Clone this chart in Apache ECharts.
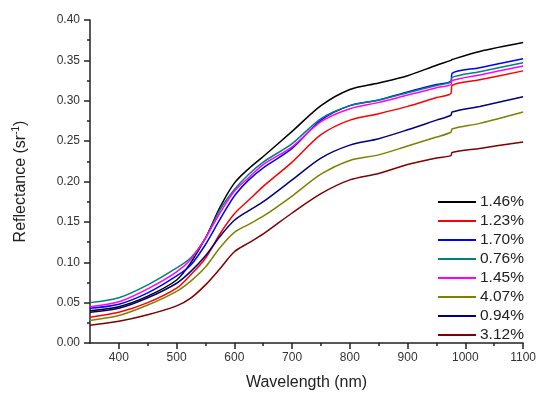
<!DOCTYPE html>
<html>
<head>
<meta charset="utf-8">
<script src="https://cdn.jsdelivr.net/npm/echarts@6/dist/echarts.min.js"></script>
<style>
html,body{margin:0;padding:0;background:#fff;}
#chart{width:539px;height:396px;}
</style>
</head>
<body>
<div id="chart"></div>
<script>
var wavelengths = [350, 400, 450, 500, 525, 550, 575, 600, 625, 650, 700, 750, 800, 850, 900, 950, 975, 977, 1025, 1100];

var seriesNames = ['1.46%', '1.23%', '1.70%', '0.76%', '1.45%', '4.07%', '0.94%', '3.12%'];

var s146 = [0.040, 0.045, 0.058, 0.078, 0.100, 0.130, 0.168, 0.198, 0.216, 0.231, 0.262, 0.294, 0.314, 0.322, 0.331, 0.344, 0.350, 0.351, 0.361, 0.372];
var s123 = [0.032, 0.038, 0.050, 0.068, 0.085, 0.105, 0.135, 0.160, 0.177, 0.194, 0.224, 0.258, 0.276, 0.284, 0.293, 0.304, 0.309, 0.319, 0.326, 0.337];
var s170 = [0.043, 0.048, 0.062, 0.083, 0.097, 0.122, 0.153, 0.182, 0.202, 0.217, 0.241, 0.276, 0.294, 0.301, 0.311, 0.320, 0.324, 0.334, 0.341, 0.352];
var s076 = [0.050, 0.056, 0.072, 0.093, 0.106, 0.130, 0.165, 0.190, 0.209, 0.224, 0.247, 0.278, 0.294, 0.301, 0.310, 0.319, 0.323, 0.329, 0.336, 0.347];
var s145 = [0.045, 0.051, 0.067, 0.088, 0.104, 0.130, 0.161, 0.188, 0.205, 0.221, 0.243, 0.274, 0.290, 0.298, 0.307, 0.316, 0.320, 0.325, 0.332, 0.343];
var s407 = [0.028, 0.034, 0.047, 0.064, 0.077, 0.094, 0.118, 0.137, 0.147, 0.157, 0.182, 0.209, 0.226, 0.233, 0.244, 0.255, 0.261, 0.265, 0.272, 0.286];
var s094 = [0.038, 0.043, 0.056, 0.074, 0.089, 0.108, 0.132, 0.152, 0.164, 0.175, 0.202, 0.229, 0.245, 0.253, 0.264, 0.276, 0.282, 0.286, 0.293, 0.305];
var s312 = [0.022, 0.027, 0.035, 0.046, 0.056, 0.072, 0.092, 0.113, 0.124, 0.135, 0.161, 0.185, 0.202, 0.210, 0.221, 0.229, 0.232, 0.236, 0.241, 0.249];

var seriesValues = [s146, s123, s170, s076, s145, s407, s094, s312];
var seriesColors = ['#000000', '#ff0000', '#0000ff', '#008080', '#ff00ff', '#808000', '#000080', '#800000'];

var xMajor = [400, 500, 600, 700, 800, 900, 1000, 1100];
var xMinor = [450, 550, 650, 750, 850, 950, 1050];

var chart = echarts.init(document.getElementById('chart'), null, {renderer: 'canvas'});

var series = seriesNames.map(function (name, i) {
  return {
    name: name,
    type: 'line',
    xAxisIndex: 0,
    yAxisIndex: 0,
    showSymbol: false,
    symbol: 'none',
    smooth: 0.3,
    lineStyle: {color: seriesColors[i], width: 1.5},
    itemStyle: {color: seriesColors[i]},
    z: 2,
    data: wavelengths.map(function (w, j) { return [w, seriesValues[i][j]]; })
  };
});

var font = 'Liberation Sans, Arial, sans-serif';

chart.setOption({
  animation: false,
  backgroundColor: '#ffffff',
  grid: {left: 90, right: 13, top: 20, bottom: 47, containLabel: false},
  legend: {
    orient: 'vertical',
    left: 433,
    top: 189,
    itemWidth: 38,
    itemHeight: 2,
    itemGap: 3,
    icon: 'rect',
    data: seriesNames,
    textStyle: {fontFamily: font, fontSize: 15.5, color: '#222', lineHeight: 15, padding: [0, 0, 0, -1]}
  },
  xAxis: [{
    type: 'value',
    min: 350,
    max: 1100,
    name: 'Wavelength (nm)',
    nameLocation: 'middle',
    nameGap: 32,
    nameTextStyle: {fontFamily: font, fontSize: 16, color: '#222'},
    axisLine: {show: true, lineStyle: {color: '#222', width: 1.5}},
    axisTick: {show: true, length: 6, customValues: xMajor, lineStyle: {color: '#222', width: 1.5}},
    axisLabel: {customValues: xMajor, fontFamily: font, fontSize: 12, color: '#333', margin: 9, formatter: function (v) { return String(v); }},
    splitLine: {show: false}
  }, {
    type: 'value',
    min: 350,
    max: 1100,
    position: 'bottom',
    axisLine: {show: false},
    axisTick: {show: true, length: 3, customValues: xMinor, lineStyle: {color: '#222', width: 1.5}},
    axisLabel: {show: false},
    splitLine: {show: false}
  }],
  yAxis: {
    type: 'value',
    min: 0,
    max: 0.4,
    interval: 0.05,
    name: 'Reflectance (sr{sup|-1})',
    nameLocation: 'middle',
    nameGap: 60,
    nameTextStyle: {
      fontFamily: font, fontSize: 16, color: '#222',
      rich: {sup: {fontFamily: font, fontSize: 10, color: '#222', verticalAlign: 'top', padding: [0, 0, 9, 0]}}
    },
    axisLine: {show: true, lineStyle: {color: '#222', width: 1.5}},
    axisTick: {show: true, length: 6, lineStyle: {color: '#222', width: 1.5}},
    minorTick: {show: true, splitNumber: 2, length: 3, lineStyle: {color: '#222', width: 1.5}},
    axisLabel: {fontFamily: font, fontSize: 12, color: '#333', margin: 10, formatter: function (v) { return v.toFixed(2); }},
    splitLine: {show: false}
  },
  series: series
});
</script>
</body>
</html>
